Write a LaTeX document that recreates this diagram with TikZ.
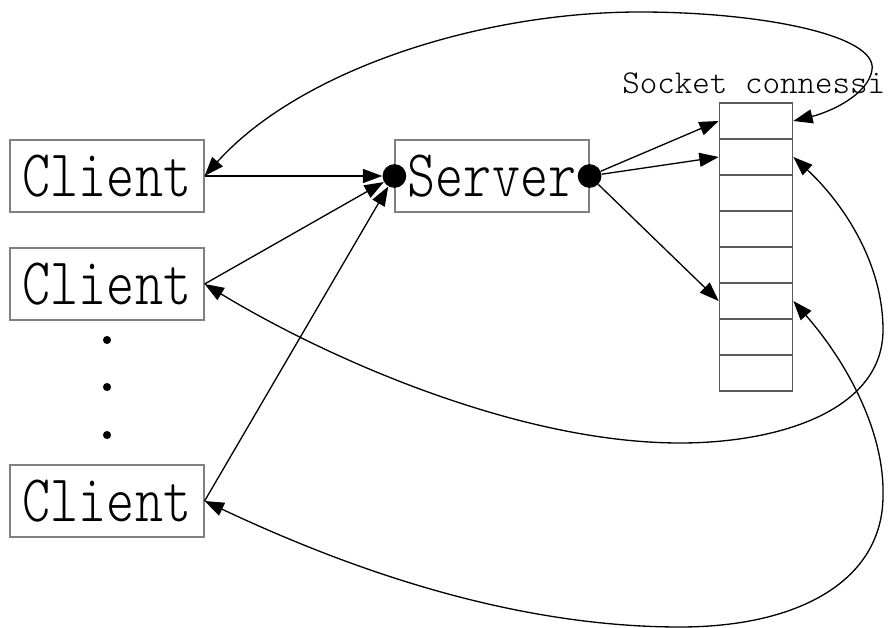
\documentclass[tikz,border=0pt]{standalone}
\usetikzlibrary{arrows.meta}

\begin{document}
\begin{tikzpicture}[x=0.02cm,y=-0.02cm,
	box/.style={draw=gray,line width=1.1pt,minimum width=110pt,minimum height=41.5pt,inner sep=0pt},
	cell/.style={draw=gray!70!black,line width=1pt,minimum width=41.5pt,minimum height=20.5pt,inner sep=0pt},
	dot/.style={circle,fill=black,minimum size=13.5pt,inner sep=0pt},
	link/.style={-{Triangle[length=11pt,width=8pt]},line width=0.75pt},
	both/.style={{Triangle[length=11pt,width=8pt]}-{Triangle[length=11pt,width=8pt]},line width=0.75pt}]
			\newcommand{\boxtext}[1]{\scalebox{0.8}[1]{\ttfamily\fontseries{l}\fontsize{38}{42}\selectfont #1}}
			\useasboundingbox (0,0) rectangle (890,628);
			\node[box] (cl1) at (107,176) {\boxtext{Client}};
			\node[box] (cl2) at (107,284) {\boxtext{Client}};
			\node[box] (cl3) at (107,501) {\boxtext{Client}};
			\node[box] (srv) at (492,176) {\boxtext{Server}};
			\node[dot] (sl) at (srv.west) {};
			\node[dot] (sr) at (srv.east) {};
			\foreach \y in {340,387,435} \fill (107,\y) circle (2.3pt);
			\foreach \i in {1,...,8} \node[cell] (c\i) at (756,{121+36*(\i-1)}) {};
			\node[font=\ttfamily\fontseries{l}\fontsize{19}{22}\selectfont,anchor=west,inner sep=0pt] (lbl) at (622,83) {Socket connessi};
			\draw[link] (cl1.east) -- (sl);
			\draw[link] (cl2.east) -- (sl);
			\draw[link] (cl3.east) -- (sl);
			\draw[link] (sr) -- (c1.west);
			\draw[link] (sr) -- (c2.west);
			\draw[link] (sr) -- (c6.west);
			\draw[both] (c1.east) .. controls (830,112) and (868,95) .. (872,70) .. controls (878,35) and (760,12) .. (640,12) .. controls (480,12) and (300,70) .. (cl1.east);
			\draw[both] (c2.east) .. controls (840,200) and (883,260) .. (883,330) .. controls (883,410) and (780,443) .. (680,443) .. controls (520,443) and (330,360) .. (cl2.east);
			\draw[both] (c6.east) .. controls (845,360) and (885,430) .. (883,497) .. controls (882,580) and (800,627) .. (680,627) .. controls (500,627) and (330,560) .. (cl3.east);
		\end{tikzpicture}
\end{document}
